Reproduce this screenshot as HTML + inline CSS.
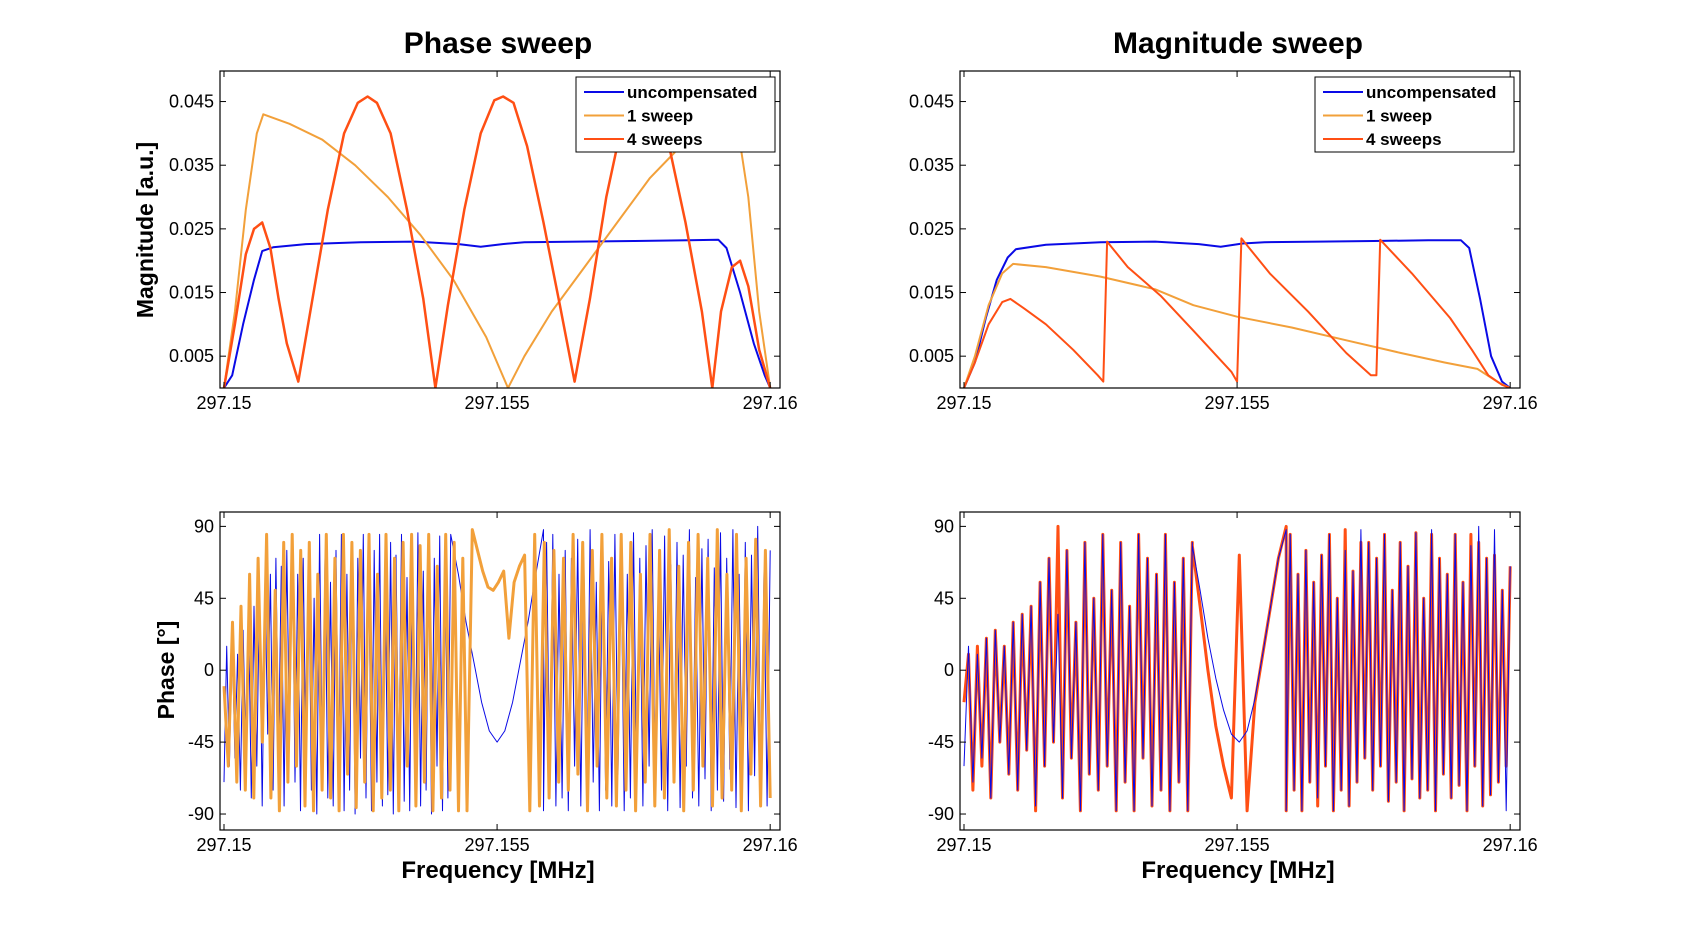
<!DOCTYPE html>
<html><head><meta charset="utf-8"><style>
html,body{margin:0;padding:0;background:#fff;}
svg{display:block;font-family:"Liberation Sans",Arial,sans-serif;}
</style></head><body>
<svg id="fig" width="1681" height="933" viewBox="0 0 1681 933" xmlns="http://www.w3.org/2000/svg"></svg>
<script>
// ---------- DATA (frequency offsets in kHz from 297.15 MHz) ----------
const xTickValues=[0,5,10];
const xTickLabels=["297.15","297.155","297.16"];
const magTickValues=[0.005,0.015,0.025,0.035,0.045];
const magTickLabels=["0.005","0.015","0.025","0.035","0.045"];
const phTickValues=[-90,-45,0,45,90];
const phTickLabels=["-90","-45","0","45","90"];
const legendLabels=["uncompensated","1 sweep","4 sweeps"];

const psUncF=[0,0.15,0.35,0.55,0.7,0.9,1.5,2.5,3.5,4.3,4.7,5.1,5.5,6.5,7.5,8.5,9.05,9.2,9.45,9.7,9.9,10];
const psUncV=[0,0.002,0.01,0.017,0.0215,0.0221,0.0226,0.0229,0.023,0.0226,0.0222,0.0226,0.0229,0.023,0.0231,0.0232,0.0233,0.022,0.015,0.007,0.002,0];
const ps1F=[0,0.2,0.4,0.6,0.72,1.2,1.8,2.4,3.0,3.6,4.2,4.8,5.2,5.5,6.0,6.6,7.2,7.8,8.25,8.7,9.1,9.35,9.6,9.8,10];
const ps1V=[0,0.012,0.028,0.04,0.043,0.0415,0.039,0.035,0.03,0.024,0.017,0.008,0,0.005,0.012,0.019,0.026,0.033,0.037,0.043,0.048,0.044,0.03,0.012,0];
const ps4F=[0,0.2,0.4,0.55,0.7,0.85,1.0,1.15,1.36,1.6,1.9,2.2,2.45,2.63,2.8,3.05,3.35,3.65,3.87,4.1,4.4,4.7,4.95,5.11,5.3,5.55,5.85,6.15,6.42,6.7,7.0,7.3,7.55,7.7,7.9,8.15,8.45,8.75,8.94,9.1,9.3,9.45,9.6,9.8,10];
const ps4V=[0,0.01,0.021,0.025,0.026,0.022,0.014,0.007,0.001,0.013,0.028,0.04,0.0448,0.0458,0.0448,0.04,0.028,0.014,0,0.013,0.028,0.04,0.0452,0.0458,0.0448,0.038,0.026,0.013,0.001,0.014,0.03,0.042,0.046,0.0465,0.045,0.038,0.026,0.012,0,0.012,0.019,0.02,0.016,0.006,0];

const msUncF=[0,0.2,0.4,0.6,0.8,0.95,1.5,2.5,3.5,4.3,4.7,5.1,5.5,6.5,7.5,8.5,9.1,9.25,9.45,9.65,9.85,10];
const msUncV=[0,0.004,0.011,0.017,0.0205,0.0218,0.0225,0.0229,0.023,0.0226,0.0222,0.0227,0.0229,0.023,0.0231,0.0232,0.0232,0.022,0.014,0.005,0.001,0];
const ms1F=[0,0.2,0.45,0.7,0.9,1.5,2.5,3.5,4.2,5.0,6.0,7.0,8.0,8.8,9.4,9.8,10];
const ms1V=[0,0.005,0.013,0.018,0.0195,0.019,0.0175,0.0155,0.013,0.0112,0.0095,0.0075,0.0055,0.004,0.003,0.0008,0];
const ms4F=[0,0.2,0.45,0.7,0.85,1.1,1.5,2.0,2.45,2.55,2.62,3.0,3.6,4.2,4.9,5.0,5.08,5.6,6.3,7.0,7.45,7.55,7.62,8.2,8.9,9.3,9.6,9.85,10];
const ms4V=[0,0.004,0.01,0.0135,0.014,0.0125,0.01,0.006,0.002,0.001,0.023,0.019,0.0145,0.009,0.0025,0.001,0.0235,0.018,0.012,0.0055,0.002,0.002,0.0233,0.018,0.011,0.006,0.002,0.0005,0];

// phase segments: [startF, endF] with values spaced evenly between
const phPsUncSegs=[[0,4.15],[4.15,5.85],[5.85,10]];
const phPsUncV=[
[-70,15,-60,20,-55,10,-75,25,-50,35,-80,40,-60,50,-85,55,-40,60,-75,70,-50,65,-85,75,-45,80,-70,60,-88,70,-55,80,-75,45,-90,85,-60,70,-80,55,-85,75,-65,85,-88,60,-75,80,-90,70,-55,85,-80,65,-88,75,-70,85,-85,60,-78,80,-90,72,-65,85,-82,58,-88,78,-70,86,-85,62,-75,80,-90,70,-60,84,-88,75,-80,85],
[85,60,30,5,-20,-38,-45,-38,-20,5,30,60,88],
[-88,80,-70,85,-85,60,-80,75,-88,70,-60,82,-85,65,-78,88,-70,55,-88,80,-75,68,-85,85,-65,72,-88,60,-80,86,-72,70,-85,78,-60,88,-82,55,-75,84,-88,66,-70,80,-86,72,-60,88,-80,58,-85,76,-68,82,-88,64,-75,86,-82,70,-62,88,-86,60,-74,80,-88,72,-66,90,-80,62,-85,75]];
const phPs1Segs=[[0,4.45],[4.45,5.6],[5.6,10]];
const phPs1V=[
[-10,-60,30,-70,40,-75,60,-80,70,-45,85,-80,50,-88,80,-70,85,-60,75,-85,80,-88,60,-75,85,-80,70,-88,85,-65,80,-86,75,-70,85,-88,60,-80,85,-75,70,-88,80,-60,85,-85,78,-70,85,-88,65,-80,85,-75,80,-88,70,-85],
[-88,88,75,62,52,50,55,62,20,55,65,72,-88],
[-88,85,-85,80,-80,75,-70,70,-75,85,-65,80,-88,75,-60,85,-80,70,-85,85,-75,80,-88,60,-70,85,-85,75,-80,88,-70,65,-88,80,-75,85,-60,70,-85,88,-80,60,-75,85,-88,70,-65,82,-85,75,-80]];
const phMsUncSegs=[[0,4.18],[4.18,5.9],[5.9,10]];
const phMsUncV=[
[-60,15,-70,10,-55,20,-80,25,-45,15,-65,30,-75,35,-50,40,-85,55,-60,70,-45,35,-80,75,-55,30,-88,80,-65,45,-75,85,-60,50,-88,80,-70,40,-88,85,-55,70,-85,60,-75,85,-88,55,-70,70,-88,80],
[78,50,20,-5,-25,-40,-45,-38,-18,10,40,70,88],
[-88,85,-75,60,-88,75,-70,55,-80,72,-60,85,-88,45,-75,75,-85,62,-70,88,-55,80,-75,70,-60,85,-82,50,-70,80,-88,65,-68,86,-80,45,-75,88,-88,70,-65,60,-80,85,-72,55,-88,78,-60,90,-85,70,-78,88,-70,50,-88,65]];
const phMs4Segs=[[0,4.18],[4.18,5.9],[5.9,10]];
const phMs4V=[
[-20,10,-75,15,-60,20,-80,25,-45,15,-65,30,-75,35,-50,40,-88,55,-60,70,-45,90,-80,75,-55,30,-88,80,-65,45,-75,85,-60,50,-88,80,-70,40,-88,85,-55,70,-85,60,-75,85,-88,55,-70,70,-88,80],
[78,40,0,-35,-60,-80,72,-88,-20,10,40,70,90],
[-88,85,-75,60,-88,75,-70,55,-85,72,-60,85,-88,45,-75,88,-85,62,-70,80,-55,80,-75,70,-60,85,-82,50,-70,80,-88,65,-68,86,-80,45,-75,85,-88,70,-65,60,-80,85,-72,55,-88,85,-60,80,-85,70,-78,72,-70,50,-60,65]];

// ---------- LAYOUT ----------
const NS="http://www.w3.org/2000/svg";
const svg=document.getElementById('fig');
const C_BLUE="#0a0ae6", C_ORANGE="#f2a03a", C_RED="#ff4f14";
const XDOM=[-0.073,10.18];
function mk(tag,attrs,parent){const e=document.createElementNS(NS,tag);for(const k in attrs)e.setAttribute(k,attrs[k]);(parent||svg).appendChild(e);return e;}
function txt(s,attrs,parent){const e=mk('text',attrs,parent);e.textContent=s;return e;}

function makeAxes(name,x0,x1,y0,y1,ydom,yTV,yTL){
  const g=mk('g',{});
  
  
  const sx=v=>x0+(v-XDOM[0])/(XDOM[1]-XDOM[0])*(x1-x0);
  const sy=v=>y1-(v-ydom[0])/(ydom[1]-ydom[0])*(y1-y0);
  const cid='clip-'+name;
  const cp=mk('clipPath',{id:cid},g);mk('rect',{x:x0,y:y0,width:x1-x0,height:y1-y0},cp);
  const plot=mk('g',{'clip-path':'url(#'+cid+')'},g);
  xTickValues.forEach((v,i)=>{
    const x=sx(v);
    mk('line',{x1:x,x2:x,y1:y1,y2:y1-6,stroke:'#000','stroke-width':1},g);
    mk('line',{x1:x,x2:x,y1:y0,y2:y0+6,stroke:'#000','stroke-width':1},g);
    const t=txt(xTickLabels[i],{x:x,y:y1+21,'text-anchor':'middle','font-size':18},g);
    
    
  });
  yTV.forEach((v,i)=>{
    const y=sy(v);
    mk('line',{x1:x0,x2:x0+6,y1:y,y2:y,stroke:'#000','stroke-width':1},g);
    mk('line',{x1:x1,x2:x1-6,y1:y,y2:y,stroke:'#000','stroke-width':1},g);
    const t=txt(yTL[i],{x:x0-6,y:y+6,'text-anchor':'end','font-size':18},g);
    
    
  });
  mk('rect',{x:x0,y:y0,width:x1-x0,height:y1-y0,fill:'none',stroke:'#000','stroke-width':1.2},g);
  return {g,plot,sx,sy};
}
function drawLine(ax,F,V,color,w,name){
  const pts=F.map((f,i)=>ax.sx(f).toFixed(1)+','+ax.sy(V[i]).toFixed(1)).join(' ');
  const p=mk('polyline',{points:pts,fill:'none',stroke:color,'stroke-width':w,'stroke-linejoin':'round'},ax.plot);
  
  
}
function drawSegs(ax,segs,vals,color,w,name){
  const F=[],V=[];
  segs.forEach((s,k)=>{const a=vals[k];const n=a.length;a.forEach((v,i)=>{F.push(s[0]+(s[1]-s[0])*i/(n-1));V.push(v);});});
  drawLine(ax,F,V,color,w,name);
}
function legend(x,y){
  const g=mk('g',{});
  
  
  mk('rect',{x:x,y:y,width:199,height:75,fill:'#fff',stroke:'#000','stroke-width':1},g);
  const cols=[C_BLUE,C_ORANGE,C_RED];
  legendLabels.forEach((l,i)=>{
    const yy=y+15+i*23.5;
    const ln=mk('line',{x1:x+8,x2:x+48,y1:yy,y2:yy,stroke:cols[i],'stroke-width':2},g);
    
    
    const t=txt(l,{x:x+51,y:yy+6,'font-size':17,'font-weight':'bold'},g);
    
    
  });
}

const MAGDOM=[0,0.0498], PHDOM=[-100,99];
const tl=makeAxes('phase-sweep-magnitude-axes',220,780,71,388,MAGDOM,magTickValues,magTickLabels);
drawLine(tl,psUncF,psUncV,C_BLUE,2,'uncompensated-line');
drawLine(tl,ps1F,ps1V,C_ORANGE,2,'one-sweep-line');
drawLine(tl,ps4F,ps4V,C_RED,2.5,'four-sweeps-line');
legend(576,77);

const tr=makeAxes('magnitude-sweep-magnitude-axes',960,1520,71,388,MAGDOM,magTickValues,magTickLabels);
drawLine(tr,msUncF,msUncV,C_BLUE,2,'uncompensated-line');
drawLine(tr,ms1F,ms1V,C_ORANGE,2,'one-sweep-line');
drawLine(tr,ms4F,ms4V,C_RED,2,'four-sweeps-line');
legend(1315,77);

const bl=makeAxes('phase-sweep-phase-axes',220,780,512,830,PHDOM,phTickValues,phTickLabels);
drawSegs(bl,phPsUncSegs,phPsUncV,C_BLUE,1,'uncompensated-phase-line');
drawSegs(bl,phPs1Segs,phPs1V,C_ORANGE,3,'one-sweep-phase-line');

const br=makeAxes('magnitude-sweep-phase-axes',960,1520,512,830,PHDOM,phTickValues,phTickLabels);
drawSegs(br,phMs4Segs,phMs4V,C_RED,3,'four-sweeps-phase-line');
drawSegs(br,phMsUncSegs,phMsUncV,C_BLUE,1,'uncompensated-phase-line');

[["Phase sweep",498,53,30,'title-phase-sweep'],["Magnitude sweep",1238,53,30,'title-magnitude-sweep'],
 ["Frequency [MHz]",498,878,24,'x-axis-title'],["Frequency [MHz]",1238,878,24,'x-axis-title']].forEach(a=>{
  const t=txt(a[0],{x:a[1],y:a[2],'text-anchor':'middle','font-size':a[3],'font-weight':'bold'});
  
  
});
const yl1=txt("Magnitude [a.u.]",{x:0,y:0,'text-anchor':'middle','font-size':23,'font-weight':'bold',transform:'translate(153,230) rotate(-90)'});


const yl2=txt("Phase [°]",{x:0,y:0,'text-anchor':'middle','font-size':23,'font-weight':'bold',transform:'translate(174,670) rotate(-90)'});


</script>
</body></html>
